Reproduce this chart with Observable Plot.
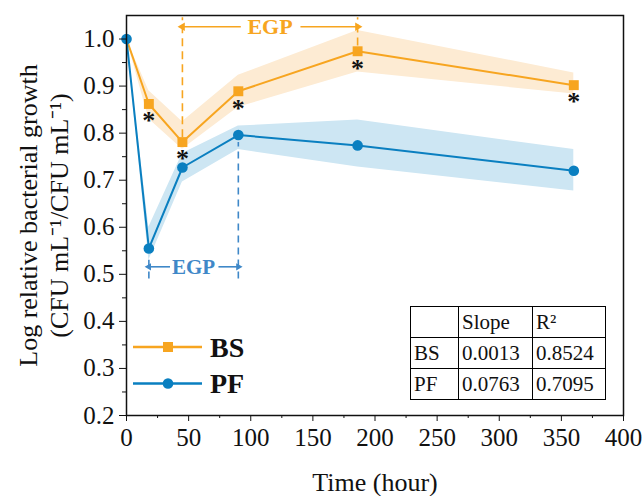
<!DOCTYPE html>
<html>
<head>
<meta charset="utf-8">
<script src="https://cdn.jsdelivr.net/npm/d3@7"></script>
<script src="https://cdn.jsdelivr.net/npm/@observablehq/plot@0.6"></script>
<style>
  body { margin: 0; background: #fff; }
  #wrap { position: relative; width: 644px; height: 496px; font-family: "Liberation Serif", "Times New Roman", serif; }
  #wrap svg { position: absolute; left: 0; top: 0; font-family: "Liberation Serif", serif !important; }
  #wrap svg text { font-family: "Liberation Serif", serif !important; }
  #tbl { position: absolute; left: 410px; top: 306px; border-collapse: collapse; table-layout: fixed; background: #fff; }
  #tbl td { border: 1px solid #000; height: 30px; padding: 0 0 0 3px; font-size: 21px; line-height: 30px; color: #111; white-space: nowrap; }
</style>
</head>
<body>
<div id="wrap"></div>
<script>
// ---- data ----
const time   = [0, 18, 45, 90, 186, 360];
const bsMean = [1.0, 0.862, 0.781, 0.889, 0.974, 0.902];
const bsLow  = [1.0, 0.830, 0.766, 0.855, 0.930, 0.883];
const bsHigh = [1.0, 0.890, 0.824, 0.923, 1.018, 0.928];
const pfMean = [1.0, 0.555, 0.727, 0.796, 0.774, 0.720];
const pfLow  = [1.0, 0.530, 0.696, 0.765, 0.728, 0.677];
const pfHigh = [1.0, 0.600, 0.757, 0.815, 0.828, 0.765];
const starTimes = [18, 45, 90, 186, 360];

const xTicks = [0, 50, 100, 150, 200, 250, 300, 350, 400];
const xMinor = [25, 75, 125, 175, 225, 275, 325, 375];
const yTicks = [0.2, 0.3, 0.4, 0.5, 0.6, 0.7, 0.8, 0.9, 1.0];
const yMinor = [0.25, 0.35, 0.45, 0.55, 0.65, 0.75, 0.85, 0.95];

// EGP annotations (data coordinates)
const egpBS = {start: 45, end: 186, y: 1.026, label: "EGP", gapL: 92, gapR: 140, top: 1.045, bottoms: [0.79, 0.985]};
const egpPF = {start: 18, end: 90, y: 0.516, label: "EGP", gapL: 35, gapR: 74, tops: [0.53, 0.78], bottom: 0.49};

const tableHead = ["", "Slope", "R²"];
const tableRows = [["BS", "0.0013", "0.8524"], ["PF", "0.0763", "0.7095"]];
const legendItems = [{label: "BS", key: "bs"}, {label: "PF", key: "pf"}];

const xTitle = "Time (hour)";
const yTitle1 = "Log relative bacterial growth";
const yTitle2 = "(CFU mL\u207B\u00B9/CFU mL\u207B\u00B9)";

// ---- styles ----
const ORANGE = "#F7A520";
const BLUE = "#0A7FC0";
const BLUE_ANN = "#3F88C8";
const ORANGE_BAND = "#FDEBD3";
const BLUE_BAND = "#CDE6F3";

const bs = time.map((t, i) => ({t, m: bsMean[i], lo: bsLow[i], hi: bsHigh[i]}));
const pf = time.map((t, i) => ({t, m: pfMean[i], lo: pfLow[i], hi: pfHigh[i]}));
const stars = bs.filter(d => starTimes.includes(d.t));

const FONT = "Liberation Serif";

const chart = Plot.plot({
  width: 644,
  height: 496,
  marginLeft: 126,
  marginRight: 21,
  marginTop: 15,
  marginBottom: 81,
  style: "font-family: 'Liberation Serif', serif; color: #111; background: transparent;",
  x: {domain: [0, 400]},
  y: {domain: [0.2, 1.05]},
  marks: [
    Plot.areaY(bs, {x: "t", y1: "lo", y2: "hi", fill: ORANGE_BAND}),
    Plot.areaY(pf, {x: "t", y1: "lo", y2: "hi", fill: BLUE_BAND}),
    // EGP BS (orange)
    Plot.ruleX([egpBS.start, egpBS.end], {x: d => d, y1: (d, i) => egpBS.bottoms[i], y2: egpBS.top, stroke: ORANGE, strokeWidth: 1.6, strokeDasharray: "8,5"}),
    Plot.link([[egpBS.gapL, egpBS.start], [egpBS.gapR, egpBS.end]], {x1: d => d[0], x2: d => d[1], y1: egpBS.y, y2: egpBS.y, stroke: ORANGE, strokeWidth: 1.6}),
    Plot.dot([egpBS.start, egpBS.end], {x: d => d, y: egpBS.y, symbol: "triangle2", r: 4, fill: ORANGE, rotate: (d, i) => i === 0 ? -90 : 90}),
    Plot.text([egpBS.label], {x: (egpBS.start + egpBS.end) / 2, y: egpBS.y, text: d => d, fill: ORANGE, fontSize: 22, fontWeight: "bold", fontFamily: FONT}),
    // EGP PF (blue)
    Plot.ruleX([egpPF.start, egpPF.end], {x: d => d, y1: egpPF.bottom, y2: (d, i) => egpPF.tops[i], stroke: BLUE_ANN, strokeWidth: 1.6, strokeDasharray: "7,5"}),
    Plot.link([[egpPF.gapL, egpPF.start], [egpPF.gapR, egpPF.end]], {x1: d => d[0], x2: d => d[1], y1: egpPF.y, y2: egpPF.y, stroke: BLUE_ANN, strokeWidth: 1.6}),
    Plot.dot([egpPF.start, egpPF.end], {x: d => d, y: egpPF.y, symbol: "triangle2", r: 3.5, fill: BLUE_ANN, rotate: (d, i) => i === 0 ? -90 : 90}),
    Plot.text([egpPF.label], {x: (egpPF.start + egpPF.end) / 2, y: egpPF.y, text: d => d, fill: BLUE_ANN, fontSize: 21, fontWeight: "bold", fontFamily: FONT}),
    // series
    Plot.line(bs, {x: "t", y: "m", stroke: ORANGE, strokeWidth: 2}),
    Plot.dot(bs.slice(1), {x: "t", y: "m", symbol: "square", r: 5.6, fill: ORANGE}),
    Plot.line(pf, {x: "t", y: "m", stroke: BLUE, strokeWidth: 2}),
    Plot.dot(pf, {x: "t", y: "m", r: 5.3, fill: BLUE}),
    Plot.text(stars, {x: "t", y: "m", text: () => "*", dy: 17, fontSize: 26, fontWeight: "bold", fill: "#111", fontFamily: FONT}),
    // axes
    Plot.axisX({ticks: xTicks, tickSize: 6, tickPadding: 7, fontSize: 25, label: null, tickFormat: d => String(d), stroke: "#111", fill: "#111", fontFamily: FONT}),
    Plot.axisX({ticks: xMinor, tickSize: 3, label: null, tickFormat: () => "", stroke: "#111"}),
    Plot.axisY({ticks: yTicks, tickSize: 7, tickPadding: 5, fontSize: 25, label: null, tickFormat: d3.format(".1f"), stroke: "#111", fill: "#111", fontFamily: FONT}),
    Plot.axisY({ticks: yMinor, tickSize: 4, label: null, tickFormat: () => "", stroke: "#111"}),
    Plot.frame({stroke: "#111", strokeWidth: 1.5}),
    Plot.text([xTitle], {frameAnchor: "bottom", dy: 67, text: d => d, fontSize: 26, lineAnchor: "middle", textAnchor: "middle", fill: "#111", fontFamily: FONT}),
    Plot.text([yTitle1], {frameAnchor: "left", dx: -98, rotate: -90, text: d => d, fontSize: 26, lineAnchor: "middle", textAnchor: "middle", fill: "#111", fontFamily: FONT}),
    Plot.text([yTitle2], {frameAnchor: "left", dx: -67, rotate: -90, text: d => d, fontSize: 26, lineAnchor: "middle", textAnchor: "middle", fill: "#111", fontFamily: FONT})
  ]
});

const wrap = document.getElementById("wrap");
wrap.appendChild(chart);

// legend overlay
const legend = d3.select(wrap).append("svg").attr("width", 644).attr("height", 496).style("pointer-events", "none");
const colors = {bs: ORANGE, pf: BLUE};
legendItems.forEach((it, i) => {
  const y = 347 + i * 36.5;
  const g = legend.append("g");
  g.append("line").attr("x1", 133).attr("x2", 202).attr("y1", y).attr("y2", y).attr("stroke", colors[it.key]).attr("stroke-width", 2.5);
  if (it.key === "bs") {
    g.append("rect").attr("x", 168 - 5).attr("y", y - 5).attr("width", 10).attr("height", 10).attr("fill", colors[it.key]);
  } else {
    g.append("circle").attr("cx", 168).attr("cy", y).attr("r", 5.3).attr("fill", colors[it.key]);
  }
  g.append("text").attr("x", 210).attr("y", y + 9.8).attr("font-family", FONT).attr("font-size", 28).attr("font-weight", "bold").attr("fill", "#111").text(it.label);
});

// table overlay
const tbl = d3.select(wrap).append("table").attr("id", "tbl");
const colW = [48, 74, 73];
const cg = tbl.append("colgroup");
colW.forEach(w => cg.append("col").style("width", w + "px"));
const rows = [tableHead, ...tableRows];
rows.forEach(r => {
  const tr = tbl.append("tr");
  r.forEach(c => tr.append("td").text(c));
});
</script>
</body>
</html>
